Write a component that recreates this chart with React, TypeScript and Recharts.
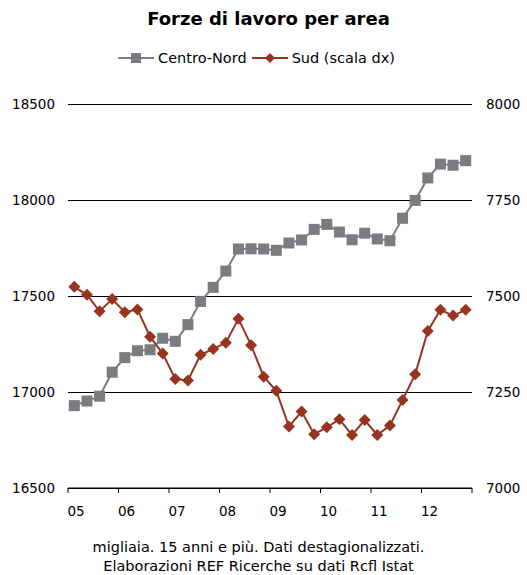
import { LineChart, Line, XAxis, YAxis, CartesianGrid } from 'recharts';

// trimestri 2005T1 - 2012T4
const YEARS = ['05', '06', '07', '08', '09', '10', '11', '12'];
const QUARTERS = YEARS.flatMap((y) => ['T1', 'T2', 'T3', 'T4'].map((q) => `${y}${q}`));

// migliaia
const CENTRO_NORD = [
  16929, 16953, 16978, 17103, 17179, 17215, 17220, 17280,
  17264, 17351, 17472, 17545, 17630, 17745, 17746, 17745,
  17738, 17776, 17792, 17847, 17873, 17833, 17793, 17827,
  17797, 17788, 17905, 17998, 18115, 18187, 18181, 18205,
];
const SUD = [
  7524, 7503, 7460, 7492, 7458, 7465, 7394, 7350,
  7284, 7280, 7347, 7362, 7378, 7441, 7372, 7290,
  7253, 7160, 7199, 7140, 7158, 7179, 7138, 7177,
  7138, 7163, 7229, 7296, 7409, 7464, 7449, 7464,
];

const LEFT_TICKS = [16500, 17000, 17500, 18000, 18500];
const RIGHT_TICKS = [7000, 7250, 7500, 7750, 8000];

const GRAY = '#7c7c80';
const RED = '#973420';
const FONT = 'Verdana, "DejaVu Sans", sans-serif';

const data = QUARTERS.map((q, i) => ({ q, i, cn: CENTRO_NORD[i], sud: SUD[i] }));
// tacche tra un anno e l'altro
const xTicks = YEARS.map((_, k) => k * 4 - 0.5).concat(QUARTERS.length - 0.5);

const SquareDot = (props: any) => {
  const { cx, cy, index } = props;
  return <rect key={`sq-${index}`} x={cx - 5.5} y={cy - 5.5} width={11} height={11} fill={GRAY} />;
};

const DiamondDot = (props: any) => {
  const { cx, cy, index } = props;
  const r = 6;
  return (
    <polygon
      key={`dm-${index}`}
      points={`${cx},${cy - r} ${cx + r},${cy} ${cx},${cy + r} ${cx - r},${cy}`}
      fill={RED}
    />
  );
};

const YearTick = (props: any) => {
  const { x, y, payload } = props;
  const k = (payload.value + 0.5) / 4;
  if (k >= YEARS.length) return <g />;
  return (
    <text x={x + 8} y={y + 16} textAnchor="middle" dominantBaseline="central" fontSize={13.5} fill="#000" fontFamily={FONT}>
      {YEARS[k]}
    </text>
  );
};

const LegendItem = ({ color, label, diamond }: { color: string; label: string; diamond?: boolean }) => (
  <span style={{ display: 'inline-flex', alignItems: 'center', marginRight: 4 }}>
    <svg width={38} height={14} style={{ marginRight: 3 }}>
      <line x1={1} y1={7} x2={37} y2={7} stroke={color} strokeWidth={2} />
      {diamond ? (
        <polygon points="19,2 24,7 19,12 14,7" fill={color} />
      ) : (
        <rect x={14} y={2} width={10} height={10} fill={color} />
      )}
    </svg>
    {label}
  </span>
);

export default function App() {
  return (
    <div style={{ position: 'absolute', left: 0, top: 0, width: 527, height: 575, fontFamily: FONT, background: '#fff' }}>
      <div style={{ position: 'absolute', top: 8, left: 0, width: 537, textAlign: 'center', fontWeight: 'bold', fontSize: 18 }}>
        Forze di lavoro per area
      </div>
      <div style={{ position: 'absolute', top: 50, left: 0, width: 516, textAlign: 'center', fontSize: 14.5, display: 'flex', justifyContent: 'center' }}>
        <LegendItem color={GRAY} label="Centro-Nord" />
        <LegendItem color={RED} label="Sud (scala dx)" diamond />
      </div>
      <LineChart width={527} height={575} data={data} margin={{ top: 104, right: 0, bottom: 57, left: 8 }}>
        <CartesianGrid yAxisId="left" horizontal vertical={false} stroke="#000" strokeWidth={1} shapeRendering="crispEdges" />
        <XAxis
          dataKey="i"
          type="number"
          domain={[-0.5, QUARTERS.length - 0.5]}
          ticks={xTicks}
          interval={0}
          height={30}
          stroke="#000"
          tickSize={5}
          tick={<YearTick />}
        />
        <YAxis
          yAxisId="left"
          domain={[16500, 18500]}
          ticks={LEFT_TICKS}
          width={60}
          axisLine={false}
          tickLine={false}
          tickSize={0}
          tickMargin={13}
          tick={{ fill: '#000', fontSize: 13.5, fontFamily: FONT }}
        />
        <YAxis
          yAxisId="right"
          orientation="right"
          domain={[7000, 8000]}
          ticks={RIGHT_TICKS}
          width={55}
          axisLine={false}
          tickLine={false}
          tickSize={0}
          tickMargin={14}
          tick={{ fill: '#000', fontSize: 13.5, fontFamily: FONT }}
        />
        <Line
          yAxisId="left"
          dataKey="cn"
          stroke={GRAY}
          strokeWidth={2}
          dot={<SquareDot />}
          isAnimationActive={false}
        />
        <Line
          yAxisId="right"
          dataKey="sud"
          stroke={RED}
          strokeWidth={2}
          dot={<DiamondDot />}
          isAnimationActive={false}
        />
      </LineChart>
      <div style={{ position: 'absolute', top: 538, left: 0, width: 517, textAlign: 'center', fontSize: 14.5, lineHeight: '19px' }}>
        migliaia. 15 anni e più. Dati destagionalizzati.
        <br />
        Elaborazioni REF Ricerche su dati Rcfl Istat
      </div>
    </div>
  );
}
